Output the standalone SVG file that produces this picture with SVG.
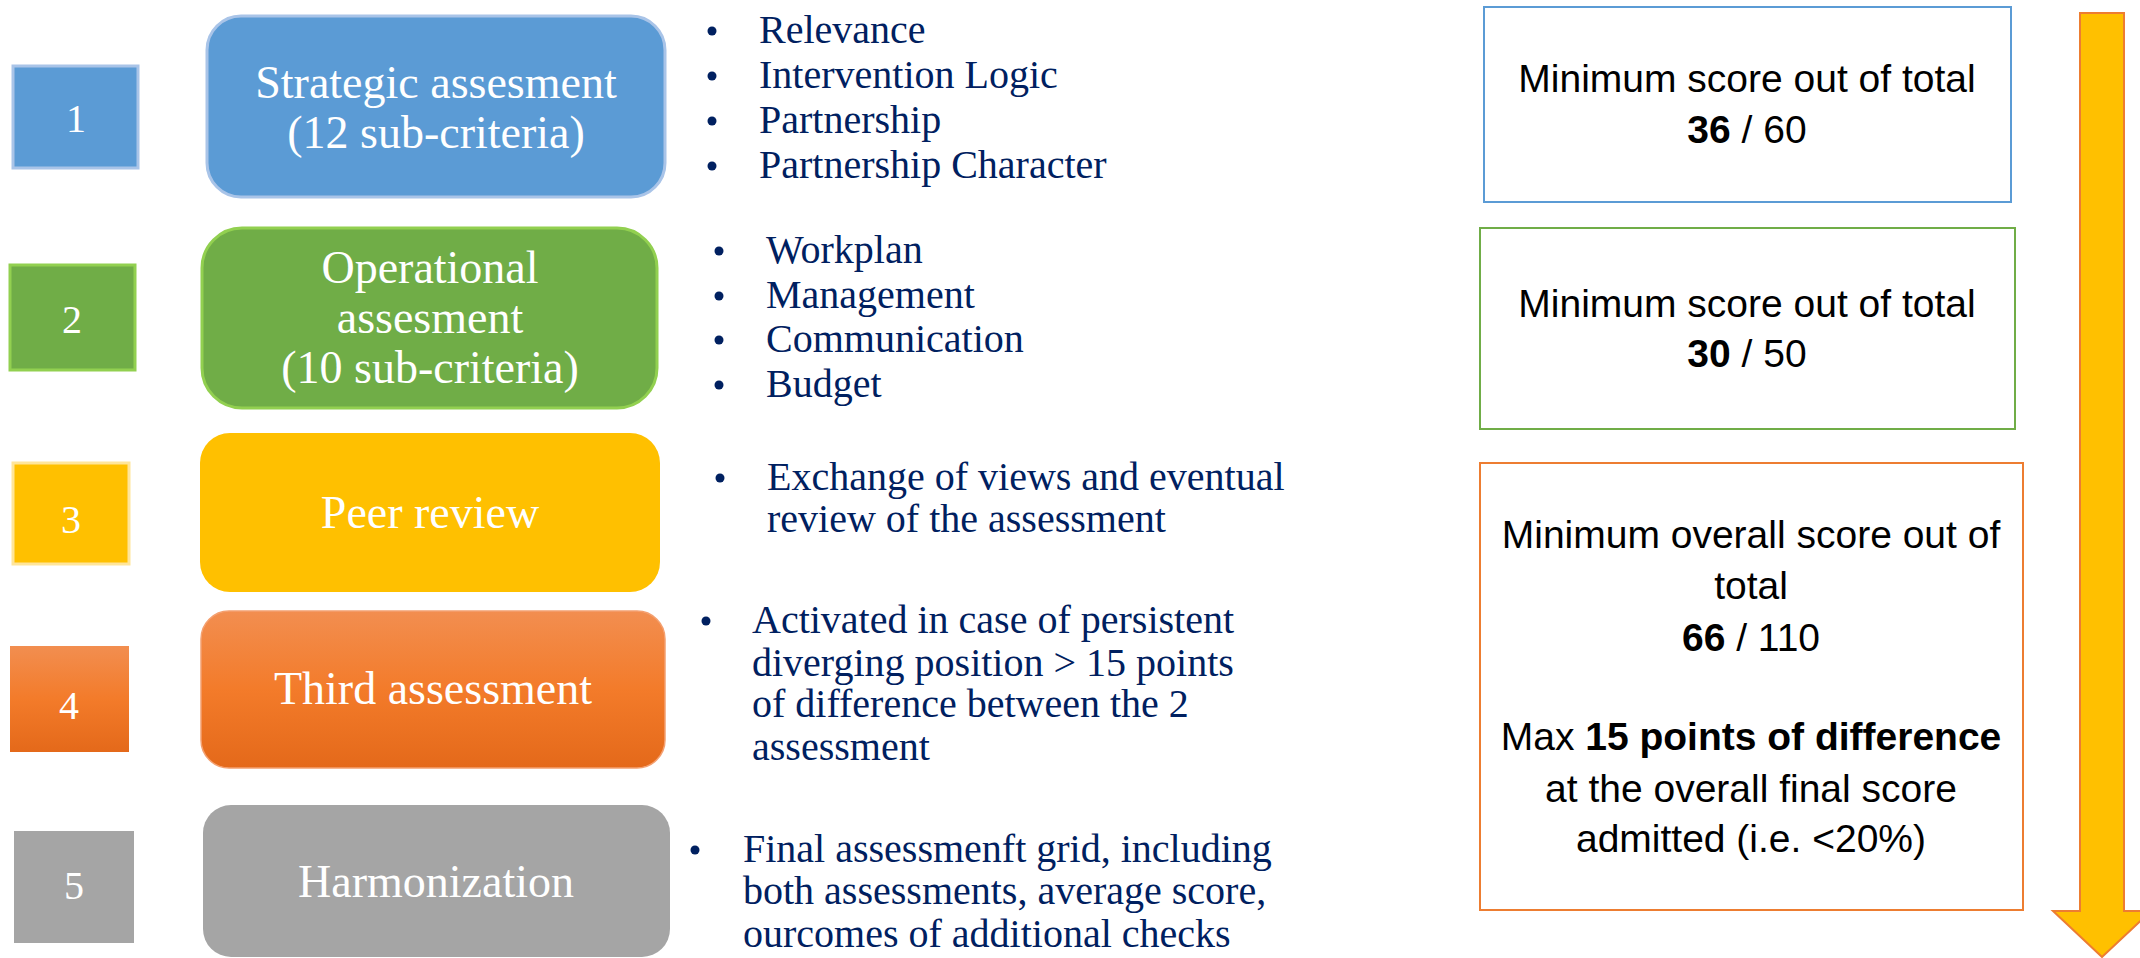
<svg xmlns="http://www.w3.org/2000/svg" width="2140" height="958" viewBox="0 0 2140 958">
<defs>
<linearGradient id="gOrange" x1="0" y1="0" x2="0" y2="1">
<stop offset="0" stop-color="#F28E50"/>
<stop offset="0.5" stop-color="#F37B2A"/>
<stop offset="1" stop-color="#E4691A"/>
</linearGradient>
<style>
.num{font-family:"Liberation Serif","DejaVu Serif",serif;font-size:40px;fill:#fff;text-anchor:middle}
.lbl{font-family:"Liberation Serif","DejaVu Serif",serif;font-size:46px;fill:#fff;text-anchor:middle}
.bul{font-family:"Liberation Serif","DejaVu Serif",serif;font-size:40px;fill:#002060}
.dot{fill:#002060}
.sc{font-family:"Liberation Sans",Arial,sans-serif;font-size:39px;fill:#000;text-anchor:middle}
.b{font-weight:bold}
</style>
</defs>
<rect width="2140" height="958" fill="#fff"/>

<g id="step1">
<rect x="13" y="66" width="125" height="102" fill="#5B9BD5" stroke="#A9C4E8" stroke-width="3"/>
<text class="num" x="76" y="132">1</text>
<rect x="207" y="16" width="458" height="181" rx="34" fill="#5B9BD5" stroke="#A9C4E8" stroke-width="3"/>
<text class="lbl" x="436" y="98">Strategic assesment</text>
<text class="lbl" x="436" y="148">(12 sub-criteria)</text>
<g class="bul">
<text x="759" y="43">Relevance</text>
<text x="759" y="88">Intervention Logic</text>
<text x="759" y="133">Partnership</text>
<text x="759" y="178">Partnership Character</text>
</g>
<g class="dot">
<circle cx="712" cy="31" r="4.5"/><circle cx="712" cy="76" r="4.5"/><circle cx="712" cy="121" r="4.5"/><circle cx="712" cy="166" r="4.5"/>
</g>
</g>

<g id="step2">
<rect x="10" y="265" width="125" height="105" fill="#70AD47" stroke="#92D050" stroke-width="3"/>
<text class="num" x="72" y="333">2</text>
<rect x="202" y="228" width="455" height="180" rx="40" fill="#70AD47" stroke="#92D050" stroke-width="3"/>
<text class="lbl" x="430" y="283">Operational</text>
<text class="lbl" x="430" y="333">assesment</text>
<text class="lbl" x="430" y="383">(10 sub-criteria)</text>
<g class="bul">
<text x="766" y="263">Workplan</text>
<text x="766" y="308">Management</text>
<text x="766" y="352">Communication</text>
<text x="766" y="397">Budget</text>
</g>
<g class="dot">
<circle cx="719" cy="251" r="4.5"/><circle cx="719" cy="296" r="4.5"/><circle cx="719" cy="340" r="4.5"/><circle cx="719" cy="385" r="4.5"/>
</g>
</g>

<g id="step3">
<rect x="13" y="463" width="116" height="101" fill="#FFC000" stroke="#FFE59A" stroke-width="3"/>
<text class="num" x="71" y="533">3</text>
<rect x="200" y="433" width="460" height="159" rx="30" fill="#FFC000"/>
<text class="lbl" x="430" y="528">Peer review</text>
<text class="bul" x="767" y="490">Exchange of views and eventual</text>
<text class="bul" x="767" y="532">review of the assessment</text>
<circle class="dot" cx="720" cy="478" r="4.5"/>
</g>

<g id="step4">
<rect x="10" y="646" width="119" height="106" fill="url(#gOrange)"/>
<text class="num" x="69" y="719">4</text>
<rect x="201" y="611" width="464" height="157" rx="28" fill="url(#gOrange)" stroke="#F4A070" stroke-width="1.5"/>
<text class="lbl" x="433" y="704">Third assessment</text>
<g class="bul">
<text x="752" y="633">Activated in case of persistent</text>
<text x="752" y="676">diverging position &gt; 15 points</text>
<text x="752" y="717">of difference between the 2</text>
<text x="752" y="760">assessment</text>
</g>
<circle class="dot" cx="706" cy="621" r="4.5"/>
</g>

<g id="step5">
<rect x="14" y="831" width="120" height="112" fill="#A5A5A5"/>
<text class="num" x="74" y="899">5</text>
<rect x="203" y="805" width="467" height="152" rx="28" fill="#A5A5A5"/>
<text class="lbl" x="436" y="897">Harmonization</text>
<g class="bul">
<text x="743" y="862">Final assessmenft grid, including</text>
<text x="743" y="904">both assessments, average score,</text>
<text x="743" y="947">ourcomes of additional checks</text>
</g>
<circle class="dot" cx="695" cy="850" r="4.5"/>
</g>

<g id="scoreA">
<rect x="1484" y="7" width="527" height="195" fill="#fff" stroke="#5B9BD5" stroke-width="2"/>
<text class="sc" x="1747" y="92">Minimum score out of total</text>
<text class="sc" x="1747" y="143"><tspan class="b">36</tspan> / 60</text>
</g>

<g id="scoreB">
<rect x="1480" y="228" width="535" height="201" fill="#fff" stroke="#70AD47" stroke-width="2"/>
<text class="sc" x="1747" y="317">Minimum score out of total</text>
<text class="sc" x="1747" y="367"><tspan class="b">30</tspan> / 50</text>
</g>

<g id="scoreC">
<rect x="1480" y="463" width="543" height="447" fill="#fff" stroke="#ED7D31" stroke-width="2"/>
<text class="sc" x="1751" y="548">Minimum overall score out of</text>
<text class="sc" x="1751" y="599">total</text>
<text class="sc" x="1751" y="651"><tspan class="b">66</tspan> / 110</text>
<text class="sc" x="1751" y="750">Max <tspan class="b">15 points of difference</tspan></text>
<text class="sc" x="1751" y="802">at the overall final score</text>
<text class="sc" x="1751" y="852">admitted (i.e. &lt;20%)</text>
</g>

<g id="connectors">
<path d="M2080,13 H2124 V911 H2151 L2102,957 L2053,911 H2080 Z" fill="#FFC000" stroke="#ED7D31" stroke-width="2"/>
</g>
</svg>
